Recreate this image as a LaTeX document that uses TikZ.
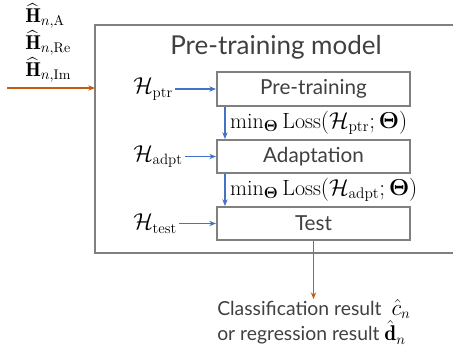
\documentclass[tikz,border=0pt]{standalone}
\usepackage{amsmath,bm}
\usepackage{fontspec}
\setsansfont{Lato}
\usepackage{tikz}
\usetikzlibrary{arrows.meta,positioning}

\definecolor{boxgray}{RGB}{128,128,128}
\definecolor{txtgray}{RGB}{64,64,64}
\definecolor{arrblue}{RGB}{68,114,196}
\definecolor{arrorange}{RGB}{197,90,17}

\newcommand{\resmath}[1]{{\color{black}\fontsize{16}{16.5}\selectfont$#1$}}

\begin{document}
\begin{tikzpicture}
[x=0.75pt,y=-0.75pt,
stage/.style={rectangle,draw=boxgray,line width=1.3pt,fill=white,inner sep=0pt,minimum width=145pt,minimum height=25pt,text=txtgray,font=\sffamily\fontsize{15.5}{18}\selectfont},
input/.style={inner sep=1.5pt,font=\fontsize{16}{18}\selectfont},
blueflow/.style={-{Stealth[length=5pt,width=4pt]},draw=arrblue,line width=0.8pt},
orangeflow/.style={-{Stealth[length=5pt,width=4pt]},draw=arrorange,line width=0.9pt},
lossname/.style={right,inner sep=3.5pt,font=\fontsize{16.5}{18}\selectfont}]

\useasboundingbox (0,0) rectangle (453,350);

% outer model box
\draw[boxgray,line width=1.5pt] (95,25) rectangle (480,253);
\node[text=txtgray,font=\sffamily\fontsize{19.5}{24}\selectfont] (title) at (276,47) {Pre-training model};

% stages
\node[stage] (ptr) at (313.5,89) {Pre-training};
\node[stage] (adpt) at (313.5,156.5) {Adaptation};
\node[stage] (test) at (313.5,223.5) {Test};

% data sets
\node[input,anchor=west] (hptr) at (131,89) {$\mathcal{H}_{\mathrm{ptr}}$};
\node[input,anchor=west] (hadpt) at (131,156.5) {$\mathcal{H}_{\mathrm{adpt}}$};
\node[input,anchor=west] (htest) at (131,223.5) {$\mathcal{H}_{\mathrm{test}}$};

\draw[blueflow] (hptr) -- (ptr);
\draw[blueflow] (hadpt) -- (adpt);
\draw[blueflow] (htest) -- (test);

\draw[blueflow] ([xshift=6.75pt]ptr.south west) -- ([xshift=6.75pt]adpt.north west)
	node [midway,lossname] {$\min_{\bm{\Theta}}\mathrm{Loss}(\mathcal{H}_{\mathrm{ptr}};\bm{\Theta})$};
\draw[blueflow] ([xshift=6.75pt]adpt.south west) -- ([xshift=6.75pt]test.north west)
	node [midway,lossname] {$\min_{\bm{\Theta}}\mathrm{Loss}(\mathcal{H}_{\mathrm{adpt}};\bm{\Theta})$};

% channel input
\node[input,anchor=west,inner sep=0pt,font=\fontsize{15}{18}\selectfont] (hA) at (25,16) {$\widehat{\mathbf{H}}_{n,\mathrm{A}}$};
\node[input,anchor=west,inner sep=0pt,font=\fontsize{15}{18}\selectfont] (hRe) at (25,43) {$\widehat{\mathbf{H}}_{n,\mathrm{Re}}$};
\node[input,anchor=west,inner sep=0pt,font=\fontsize{15}{18}\selectfont] (hIm) at (25,70) {$\widehat{\mathbf{H}}_{n,\mathrm{Im}}$};
\coordinate (chin) at (7,88);
\coordinate (boxin) at (95,88);
\draw[orangeflow] (chin) -- (boxin);

% output
\node[align=left,text=txtgray,inner sep=0pt,anchor=north west,font=\sffamily\fontsize{14.5}{16.5}\selectfont] (result) at (217,299)
	{Classification result\ \ \resmath{\hat{c}_n}\\or regression result\ \resmath{\hat{\mathbf{d}}_n}};
\draw[orangeflow] (test.south) -- (test.south |- result.north);
\end{tikzpicture}
\end{document}
